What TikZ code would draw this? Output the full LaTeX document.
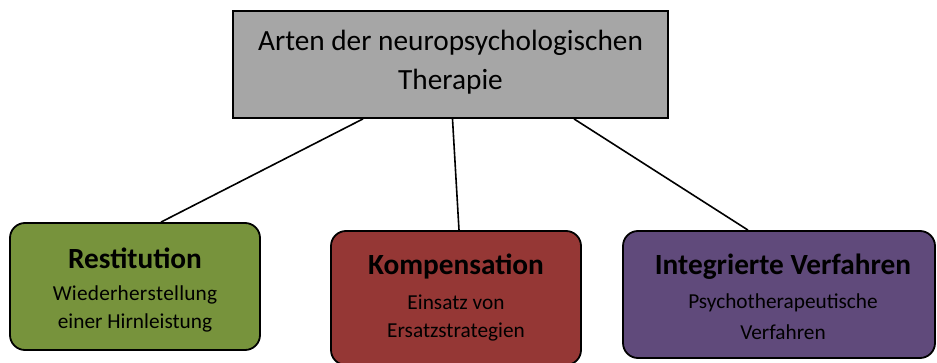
\documentclass[tikz,border=0pt]{standalone}
\usepackage{fontspec}
\setmainfont{Carlito}
\usetikzlibrary{calc}
\definecolor{topgray}{HTML}{A6A6A6}
\definecolor{boxgreen}{HTML}{77933C}
\definecolor{boxred}{HTML}{953735}
\definecolor{boxpurple}{HTML}{604A7B}
\tikzset{
  topbox/.style={draw=black, line width=1.8pt, fill=topgray, inner sep=0pt, minimum width=435pt, minimum height=107pt},
  catbox/.style={draw=black, line width=1.8pt, rounded corners=15pt, inner sep=0pt},
  toptext/.style={font=\fontsize{29.3}{29.3}\selectfont, inner sep=0pt, anchor=center},
  headtext/.style={font=\fontsize{29.3}{29.3}\selectfont\bfseries, inner sep=0pt, anchor=center},
  subtext/.style={font=\fontsize{21.3}{21.3}\selectfont, inner sep=0pt, anchor=center},
  conn/.style={draw=black, line width=1.6pt}
}
\begin{document}
\begin{tikzpicture}[x=1pt,y=-1pt]
\useasboundingbox (0,0) rectangle (937,363);
% top box
\node[topbox] (top) at (450.5,64.5) {};
\node[toptext] (t1) at (450.5,43) {Arten der neuropsychologischen};
\node[toptext] (t2) at (450.5,82) {Therapie};
% category boxes
\node[catbox, fill=boxgreen, minimum width=250pt, minimum height=127pt] (rest) at (135,286.5) {};
\node[catbox, fill=boxred, minimum width=250pt, minimum height=134pt] (komp) at (456,298) {};
\node[catbox, fill=boxpurple, minimum width=312pt, minimum height=127pt] (integ) at (779,294.5) {};
% texts
\node[headtext] (rh) at (135,258) {Restitution};
\node[subtext] (rs1) at (135,295) {W\kern0.2pt i\kern0.2pt e\kern0.2pt d\kern0.2pt e\kern0.2pt r\kern0.2pt h\kern0.2pt e\kern0.2pt r\kern0.2pt s\kern0.2pt t\kern0.2pt e\kern0.2pt l\kern0.2pt l\kern0.2pt u\kern0.2pt n\kern0.2pt g};
\node[subtext] (rs2) at (135,323) {einer Hirnleistung};
\node[headtext] (kh) at (456,267) {Kompensation};
\node[subtext] (ks1) at (456,302) {Einsatz von};
\node[subtext] (ks2) at (456,332) {Ersatzstrategien};
\node[headtext] (ih) at (783,267) {Integrierte Verfahren};
\node[subtext] (is1) at (783,303) {Psychotherapeutische};
\node[subtext] (is2) at (783,332) {Verfahren};
% connectors
\draw[conn] ([xshift=-87.5pt]top.south) -- ([xshift=26pt]rest.north);
\draw[conn] ([xshift=2pt]top.south) -- ([xshift=3pt]komp.north);
\draw[conn] ([xshift=123.5pt]top.south) -- ([xshift=-31pt]integ.north);
\end{tikzpicture}
\end{document}
